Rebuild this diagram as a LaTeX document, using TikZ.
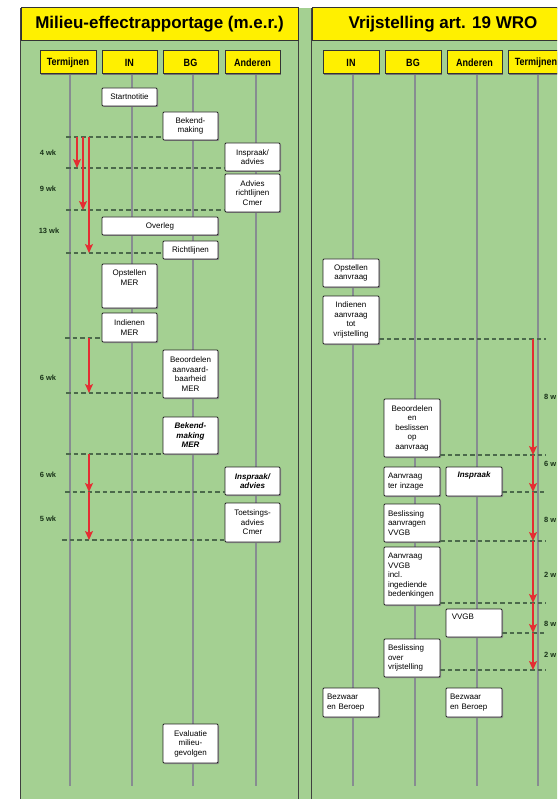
\documentclass[tikz,border=0pt]{standalone}
\usepackage{fontspec}
\setmainfont{Liberation Sans}
\newfontfamily\narrowfont[FakeStretch=0.86]{Liberation Sans}
\usetikzlibrary{arrows.meta}
\definecolor{bggreen}{RGB}{164,208,146}
\definecolor{hdryellow}{RGB}{255,240,0}
\definecolor{lifegray}{RGB}{135,140,145}
\definecolor{dashgreen}{RGB}{75,105,75}
\definecolor{arrred}{RGB}{228,45,50}
\definecolor{boxline}{RGB}{35,35,35}
\definecolor{wkcol}{RGB}{25,50,25}
\tikzset{
 panel/.style={draw=black!75, line width=0.9pt},
 titlebar/.style={draw=black!80, line width=1pt, fill=hdryellow, inner sep=0pt, minimum height=33pt, font=\fontsize{17}{20}\selectfont\bfseries},
 hdr/.style={draw=black!80, line width=1pt, fill=hdryellow, inner sep=0pt, minimum height=23pt, font=\narrowfont\bfseries\fontsize{10.5}{12}\selectfont, preaction={fill=black!55, transform canvas={xshift=1.2pt,yshift=-1.2pt}}},
 life/.style={draw=lifegray, line width=2.2pt},
 bx/.style={draw=boxline, fill=white, line width=0.8pt, rounded corners=1pt, inner sep=2pt, minimum width=55pt, text width=51pt, align=center, font=\fontsize{8}{9.5}\selectfont, preaction={fill=black!45, transform canvas={xshift=1pt,yshift=-1pt}}},
 bxr/.style={bx, minimum width=56pt, text width=52pt},
 bxl/.style={bx, minimum width=56pt, inner xsep=4pt, text width=48pt, align=left},
 bxtext/.style={inner sep=0pt, font=\fontsize{8}{9.5}\selectfont, align=center},
 bi/.style={font=\bfseries\itshape\fontsize{8}{9.5}\selectfont},
 wk/.style={font=\bfseries\fontsize{7.5}{9}\selectfont, text=wkcol, inner sep=0pt},
 dsh/.style={draw=dashgreen, line width=1.1pt, dash pattern=on 4.5pt off 3pt},
 redarr/.style={draw=arrred, line width=1.2pt, -{Stealth[length=9pt,width=8pt,inset=2pt]}}
}
\begin{document}
\begin{tikzpicture}[x=1pt,y=-1pt]
\useasboundingbox (0,0) rectangle (557,799);
\clip (0,0) rectangle (557,799);
\fill[white] (0,0) rectangle (557,799);
\fill[bggreen] (20,8) rectangle (590,820);
\draw[panel] (20,8) rectangle (298,820);
\draw[panel] (311,8) rectangle (590,820);

% lifelines
\foreach \x/\n in {70/a,132/b,193/c,256/d,353/e,415/f,477/g,538/h}{
  \coordinate (lt\n) at (\x,74);
  \coordinate (lb\n) at (\x,786);
  \draw[life] (lt\n) -- (lb\n);
}

% titles
\node[titlebar, minimum width=277pt] (t1) at (159.5,24.5) {Milieu-effectrapportage (m.e.r.)};
\node[titlebar, minimum width=262pt] (t2) at (443,24.5) {Vrijstelling art. 19 WRO};

% headers
\node[hdr, minimum width=56pt] (lT) at (68,62.5) {Termijnen};
\node[hdr, minimum width=55pt] (lIN) at (129.5,62.5) {IN};
\node[hdr, minimum width=55pt] (lBG) at (190.5,62.5) {BG};
\node[hdr, minimum width=55pt] (lAN) at (252.5,62.5) {Anderen};
\node[hdr, minimum width=56pt] (rIN) at (351,62.5) {IN};
\node[hdr, minimum width=56pt] (rBG) at (413,62.5) {BG};
\node[hdr, minimum width=55pt] (rAN) at (474.5,62.5) {Anderen};
\node[hdr, minimum width=56pt] (rT) at (536,62.5) {Termijnen};

% left boxes
\node[bx, minimum height=18pt] (start) at (129.5,97) {Startnotitie};
\node[bx, minimum height=28pt] (bek1) at (190.5,126) {Bekend-\\making};
\node[bx, minimum height=28pt] (insp1) at (252.5,157) {Inspraak/\\advies};
\node[bx, minimum height=38pt] (adv) at (252.5,193) {Advies\\richtlijnen\\Cmer};
\node[bx, minimum width=116pt, text width=112pt, minimum height=18pt] (overleg) at (160,226) {Overleg};
\node[bx, minimum height=18pt] (richt) at (190.5,250) {Richtlijnen};
\node[bx, minimum height=44pt] (opst) at (129.5,286) {};
\node[bxtext, anchor=north] (opstT) at ([yshift=-6pt]opst.north) {Opstellen\\MER};
\node[bx, minimum height=29pt] (indien) at (129.5,327.5) {Indienen\\MER};
\node[bx, minimum height=48pt] (beoord) at (190.5,374) {Beoordelen\\aanvaard-\\baarheid\\MER};
\node[bx, bi, minimum height=37pt] (bek2) at (190.5,435.5) {Bekend-\\making\\MER};
\node[bx, bi, minimum height=28pt] (insp2) at (252.5,481) {Inspraak/\\advies};
\node[bx, minimum height=39pt] (toets) at (252.5,522.5) {Toetsings-\\advies\\Cmer};
\node[bx, minimum height=39pt] (eval) at (190.5,743.5) {Evaluatie\\milieu-\\gevolgen};

% right boxes
\node[bxr, minimum height=28pt] (ropst) at (351,273) {Opstellen\\aanvraag};
\node[bxr, minimum height=48pt] (rind) at (351,320) {Indienen\\aanvraag\\tot\\vrijstelling};
\node[bxr, minimum height=58pt] (rbeo) at (412,428) {Beoordelen\\en\\beslissen\\op\\aanvraag};
\node[bxl, minimum height=29pt] (rinz) at (412,481.5) {Aanvraag\\ter inzage};
\node[bxr, minimum height=29pt] (rinsp) at (474,481.5) {};
\node[bxtext, bi, anchor=north] (rinspT) at ([yshift=-5pt]rinsp.north) {Inspraak};
\node[bxl, minimum height=38pt] (rbesl) at (412,523) {Beslissing\\aanvragen\\VVGB};
\node[bxl, minimum height=58pt] (raanv) at (412,576) {Aanvraag\\VVGB\\incl.\\ingediende\\bedenkingen};
\node[bxr, minimum height=28pt] (rvvgb) at (474,623) {};
\node[bxtext, anchor=north west] (rvvgbT) at ([xshift=6pt,yshift=-5pt]rvvgb.north west) {VVGB};
\node[bxl, minimum height=38pt] (rbov) at (412,658) {Beslissing\\over\\vrijstelling};
\node[bxl, minimum height=29pt] (rbez1) at (351,702.5) {Bezwaar\\en Beroep};
\node[bxl, minimum height=29pt] (rbez2) at (474,702.5) {Bezwaar\\en Beroep};

% left dashed lines
\coordinate (d1) at (66,137); \draw[dsh] (d1) -- (d1 -| bek1.west);
\coordinate (d2) at (66,168); \draw[dsh] (d2) -- (d2 -| insp1.west);
\coordinate (d3) at (66,210); \draw[dsh] (d3) -- (d3 -| adv.west);
\coordinate (d4) at (66,253); \draw[dsh] (d4) -- (d4 -| richt.west);
\coordinate (d5) at (65,338); \draw[dsh] (d5) -- (d5 -| indien.west);
\coordinate (d6) at (66,393); \draw[dsh] (d6) -- (d6 -| beoord.west);
\coordinate (d7) at (66,454); \draw[dsh] (d7) -- (d7 -| bek2.west);
\coordinate (d8) at (65,492); \draw[dsh] (d8) -- (d8 -| insp2.west);
\coordinate (d9) at (62,540); \draw[dsh] (d9) -- (d9 -| toets.west);

% right dashed lines
\coordinate (e1) at (546,339); \draw[dsh] (e1 -| rind.east) -- (e1);
\coordinate (e2) at (546,455); \draw[dsh] (e2 -| rbeo.east) -- (e2);
\coordinate (e3) at (546,492); \draw[dsh] (e3 -| rinsp.east) -- (e3);
\coordinate (e4) at (546,541); \draw[dsh] (e4 -| rbesl.east) -- (e4);
\coordinate (e5) at (546,603); \draw[dsh] (e5 -| raanv.east) -- (e5);
\coordinate (e6) at (546,633); \draw[dsh] (e6 -| rvvgb.east) -- (e6);
\coordinate (e7) at (546,670); \draw[dsh] (e7 -| rbov.east) -- (e7);

% left red arrows
\coordinate (a1s) at (77,137); \coordinate (a1e) at (77,168);
\coordinate (a2s) at (83,137); \coordinate (a2e) at (83,210);
\coordinate (a3s) at (89,137); \coordinate (a3e) at (89,253);
\coordinate (a4s) at (89,338); \coordinate (a4e) at (89,393);
\coordinate (a5s) at (89,454); \coordinate (a5e) at (89,492);
\coordinate (a6e) at (89,540);
\draw[redarr] (a1s) -- (a1e);
\draw[redarr] (a2s) -- (a2e);
\draw[redarr] (a3s) -- (a3e);
\draw[redarr] (a4s) -- (a4e);
\draw[redarr] (a5s) -- (a5e);
\draw[redarr] (a5e) -- (a6e);

% right red arrows
\coordinate (r0) at (533,339);
\coordinate (r1) at (533,455);
\coordinate (r2) at (533,492);
\coordinate (r3) at (533,541);
\coordinate (r4) at (533,603);
\coordinate (r5) at (533,633);
\coordinate (r6) at (533,670);
\draw[redarr] (r0) -- (r1);
\draw[redarr] (r1) -- (r2);
\draw[redarr] (r2) -- (r3);
\draw[redarr] (r3) -- (r4);
\draw[redarr] (r4) -- (r5);
\draw[redarr] (r5) -- (r6);

% week labels
\node[wk] (w1) at (48,153) {4 wk};
\node[wk] (w2) at (48,189) {9 wk};
\node[wk] (w3) at (49,231) {13 wk};
\node[wk] (w4) at (48,378) {6 wk};
\node[wk] (w5) at (48,475) {6 wk};
\node[wk] (w6) at (48,519) {5 wk};
\node[wk, anchor=west] (v1) at (544,397) {8 w};
\node[wk, anchor=west] (v2) at (544,464) {6 w};
\node[wk, anchor=west] (v3) at (544,520) {8 w};
\node[wk, anchor=west] (v4) at (544,575) {2 w};
\node[wk, anchor=west] (v5) at (544,624) {8 w};
\node[wk, anchor=west] (v6) at (544,655) {2 w};
\end{tikzpicture}
\end{document}
